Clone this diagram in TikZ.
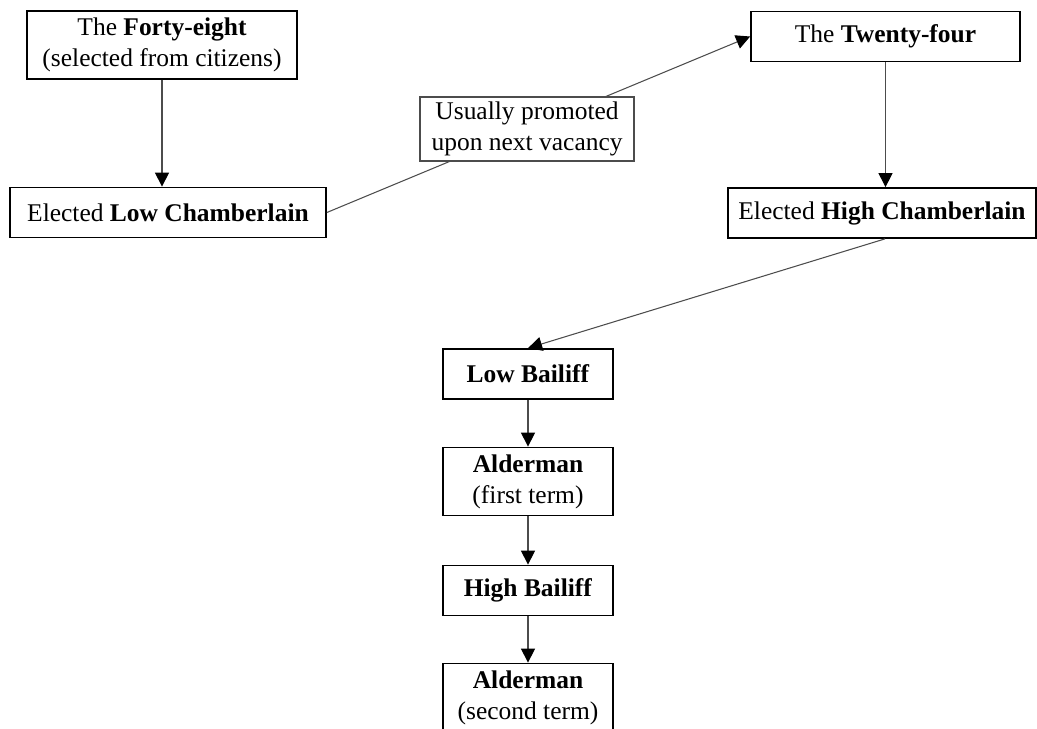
\documentclass[tikz,border=0pt]{standalone}
\usepackage{fontspec}
\setmainfont{Liberation Serif}
\usepackage{tikz}
\usetikzlibrary{positioning}
\usetikzlibrary{calc}
\usetikzlibrary{arrows.meta}

\begin{document}
\begin{tikzpicture}[x=0.02cm,y=-0.02cm,font=\fontsize{14.5pt}{17.5pt}\selectfont,
box/.style={draw,line width=1pt,inner sep=0pt,align=center,minimum height=50*0.02cm},
tall/.style={box,minimum height=68*0.02cm},
arr/.style={-{Triangle[length=8pt,width=8pt,color=black]},draw=black!70,line width=0.6pt}]
\useasboundingbox (0,0) rectangle (1037,729);
\clip (0,0) rectangle (1037,729);
\node (fortyeight) at (162,45) [tall,minimum width=270*0.02cm] {The \textbf{Forty-eight}\\(selected from citizens)};
\node (lowch) at (168,212.5) [box,minimum width=316*0.02cm] {Elected \textbf{Low Chamberlain}};
\node (twentyfour) at (885.5,36.5) [box,minimum width=269*0.02cm] {The \textbf{Twenty-four}};
\node (highch) at (882,213) [box,minimum width=308*0.02cm] {Elected \textbf{High Chamberlain}};
\node (lowbailiff) at (528,374) [box,minimum width=170*0.02cm] {\textbf{Low Bailiff}};
\node (alder1) at (528,481.5) [tall,minimum width=170*0.02cm] {\textbf{Alderman}\\(first term)};
\node (highbailiff) at (528,590.5) [box,minimum width=170*0.02cm] {\textbf{High Bailiff}};
\node (alder2) at (528,697.5) [tall,minimum width=170*0.02cm] {\textbf{Alderman}\\(second term)};
\draw[arr] (fortyeight.south) -- (fortyeight.south |- lowch.north);
\draw[arr] (lowch.east) -- node (promo) [box,fill=white,pos=0.473,minimum width=214*0.02cm,minimum height=64*0.02cm] {Usually promoted\\upon next vacancy} (twentyfour.west);
\draw[arr] (twentyfour.south) -- (twentyfour.south |- highch.north);
\draw[arr] ($(highch.south)+(3,0)$) -- (lowbailiff.north);
\draw[arr] (lowbailiff) -- (alder1);
\draw[arr] (alder1) -- (highbailiff);
\draw[arr] (highbailiff) -- (alder2);
\end{tikzpicture}
\end{document}
